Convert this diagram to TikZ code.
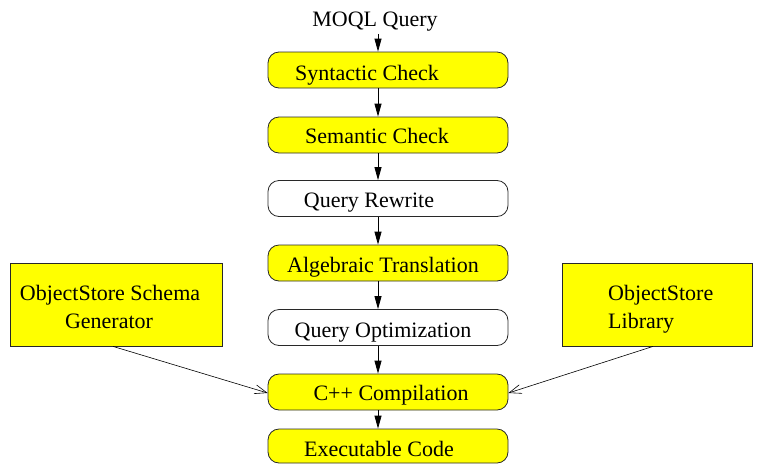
\documentclass[tikz,border=0pt]{standalone}
\usepackage{fontspec}
\setmainfont{Liberation Serif}
\newfontfamily\timesfam{Liberation Serif}
\usetikzlibrary{arrows.meta}
\definecolor{boxyellow}{RGB}{255,255,0}
\definecolor{edge}{RGB}{40,40,40}
\tikzset{
  stage/.style={draw=edge, line width=0.8pt, rounded corners=11pt,
    minimum width=240pt, minimum height=36pt, inner sep=0pt},
  hot/.style={stage, fill=boxyellow},
  cold/.style={stage, fill=white},
  sidebox/.style={draw=edge, line width=0.8pt, fill=boxyellow,
    minimum height=83pt, inner sep=0pt},
  lbl/.style={font=\timesfam\fontsize{22}{28}\selectfont, inner sep=0pt, anchor=base},
  flow/.style={line width=0.8pt, -{Triangle[length=13pt,width=7pt]}},
  feed/.style={line width=0.6pt, -{Straight Barb[length=12pt,width=9pt]}}
}
\begin{document}
\begin{tikzpicture}[x=1pt, y=-1pt]
  \useasboundingbox (0,0) rectangle (760,464);

  % main pipeline
  \node[hot]  (syn) at (388,70)    {};
  \node[hot]  (sem) at (388,135)   {};
  \node[cold] (rew) at (388,198.5) {};
  \node[hot]  (alg) at (388,263)   {};
  \node[cold] (opt) at (388,327.5) {};
  \node[hot]  (cpp) at (388,392)   {};
  \node[hot, minimum height=34pt] (exe) at (388,446) {};

  % side inputs
  \node[sidebox, minimum width=212pt] (lbox) at (116,304.5) {};
  \node[sidebox, minimum width=190pt] (rbox) at (657,304.5) {};

  % labels
  \node[lbl] (moql)  at (375,26)  {MOQL Query};
  \node[lbl] (synt)  at (367,80)  {Syntactic Check};
  \node[lbl] (semt)  at (377,143) {Semantic Check};
  \node[lbl] (rewt)  at (369,207) {Query Rewrite};
  \node[lbl] (algt)  at (383,272) {Algebraic Translation};
  \node[lbl] (optt)  at (383,337) {Query Optimization};
  \node[lbl] (cppt)  at (391,400) {C++ Compilation};
  \node[lbl] (exet)  at (379,456) {Executable Code};
  \node[lbl] (lt1)   at (110,300) {ObjectStore Schema};
  \node[lbl] (lt2)   at (109,328) {Generator};
  \node[lbl, anchor=base west] (rt1) at (608,300) {ObjectStore};
  \node[lbl, anchor=base west] (rt2) at (608,328) {Library};

  % vertical flow
  \coordinate (ax) at (378,0);
  \draw[flow] ([yshift=-3pt]moql.south -| ax) -- (syn.north -| ax);
  \draw[flow] (syn.south -| ax) -- (sem.north -| ax);
  \draw[flow] (sem.south -| ax) -- (rew.north -| ax);
  \draw[flow] (rew.south -| ax) -- (alg.north -| ax);
  \draw[flow] (alg.south -| ax) -- (opt.north -| ax);
  \draw[flow] (opt.south -| ax) -- (cpp.north -| ax);
  \draw[flow] (cpp.south -| ax) -- (exe.north -| ax);

  % side feeds
  \draw[feed] ([xshift=-3pt]lbox.south) -- ([yshift=-1pt]cpp.west);
  \draw[feed] ([xshift=-4pt]rbox.south) -- ([yshift=-1pt]cpp.east);
\end{tikzpicture}
\end{document}
